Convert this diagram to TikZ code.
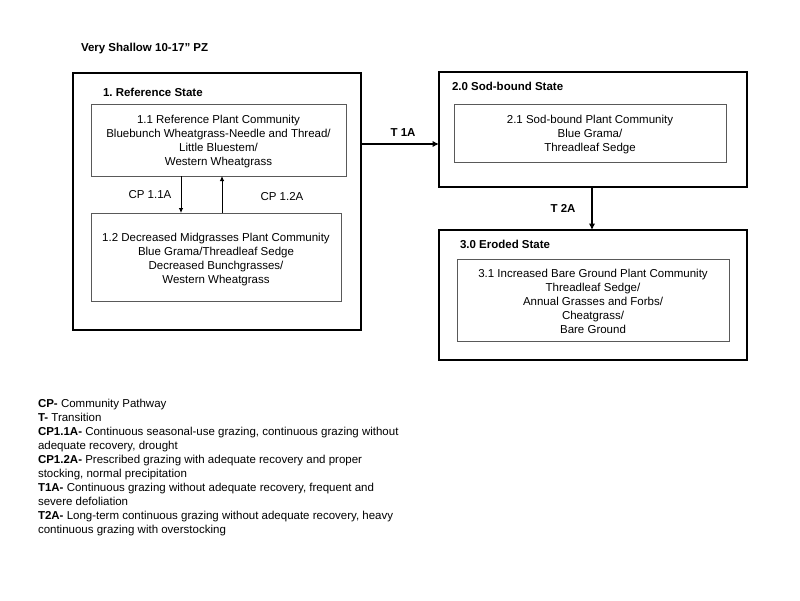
\documentclass[tikz,border=0pt]{standalone}
\usepackage{fontspec}
\setmainfont{Liberation Sans}
\usetikzlibrary{arrows.meta}
\frenchspacing
\begin{document}
\begin{tikzpicture}[x=1pt,y=-1pt,
  every node/.style={inner sep=0pt,outer sep=0pt},
  txt/.style={font=\fontsize{11.5}{14}\selectfont,align=center},
  bld/.style={font=\fontsize{11.5}{14}\selectfont\bfseries},
  statebox/.style={draw,line width=2.4pt,rectangle},
  commbox/.style={draw=black!65,line width=0.8pt,rectangle},
  thinarrow/.style={line width=0.8pt,-{Latex[length=5pt,width=4.5pt]}},
  thickarrow/.style={line width=2pt,-{Latex[length=6.5pt,width=6.5pt]}}
]
\useasboundingbox (0,0) rectangle (800,600);
% title
\node[bld,anchor=base west] (title) at (81,51) {Very Shallow 10-17'' PZ};
% state boxes
\node[statebox,minimum width=288pt,minimum height=257pt] (s1) at (217,201.5) {};
\node[statebox,minimum width=308pt,minimum height=115pt] (s2) at (593,129.5) {};
\node[statebox,minimum width=308pt,minimum height=130pt] (s3) at (593,295) {};
% state titles
\node[bld,anchor=base west] (t1) at (103,96) {1. Reference State};
\node[bld,anchor=base west] (t2) at (452,90) {2.0 Sod-bound State};
\node[bld,anchor=base west] (t3) at (460,248) {3.0 Eroded State};
% community boxes
\node[commbox,minimum width=255pt,minimum height=72pt] (c11) at (218.5,140) {};
\node[commbox,minimum width=250pt,minimum height=88pt] (c12) at (216,257) {};
\node[commbox,minimum width=272pt,minimum height=58pt] (c21) at (590,133) {};
\node[commbox,minimum width=272pt,minimum height=82pt] (c31) at (593,300) {};
\node[txt] (c11t) at ([yshift=-2pt]c11.center)
  {1.1 Reference Plant Community\\Bluebunch Wheatgrass-Needle and Thread/\\Little Bluestem/\\Western Wheatgrass};
\node[txt] (c12t) at ([yshift=-3pt]c12.center)
  {1.2 Decreased Midgrasses Plant Community\\Blue Grama/Threadleaf Sedge\\Decreased Bunchgrasses/\\Western Wheatgrass};
\node[txt] (c21t) at ([yshift=-1.5pt]c21.center)
  {2.1 Sod-bound Plant Community\\Blue Grama/\\Threadleaf Sedge};
\node[txt] (c31t) at ([yshift=-1.5pt]c31.center)
  {3.1 Increased Bare Ground Plant Community\\Threadleaf Sedge/\\Annual Grasses and Forbs/\\Cheatgrass/\\Bare Ground};
% pathways
\draw[thinarrow] (c11.south -| 181,0) -- (c12.north -| 181,0);
\draw[thinarrow] (c12.north -| 222,0) -- (c11.south -| 222,0);
\node[txt] (lcp1) at (150,195) {CP 1.1A};
\node[txt] (lcp2) at (282,197) {CP 1.2A};
% transitions
\draw[thickarrow] (s1.east |- 0,144) -- (s2.west |- 0,144);
\node[bld] (lt1) at (403,133) {T 1A};
\draw[thickarrow] (s2.south -| 592,0) -- (s3.north -| 592,0);
\node[bld] (lt2) at (563,208) {T 2A};
% legend
\node[txt,align=left,anchor=north west] (legend) at (38,399.5)
  {\textbf{CP-} Community Pathway\\
   \textbf{T-} Transition\\
   \textbf{CP1.1A-} Continuous seasonal-use grazing, continuous grazing without\\
   adequate recovery, drought\\
   \textbf{CP1.2A-} Prescribed grazing with adequate recovery and proper\\
   stocking, normal precipitation\\
   \textbf{T1A-} Continuous grazing without adequate recovery, frequent and\\
   severe defoliation\\
   \textbf{T2A-} Long-term continuous grazing without adequate recovery, heavy\\
   continuous grazing with overstocking};
\end{tikzpicture}
\end{document}
